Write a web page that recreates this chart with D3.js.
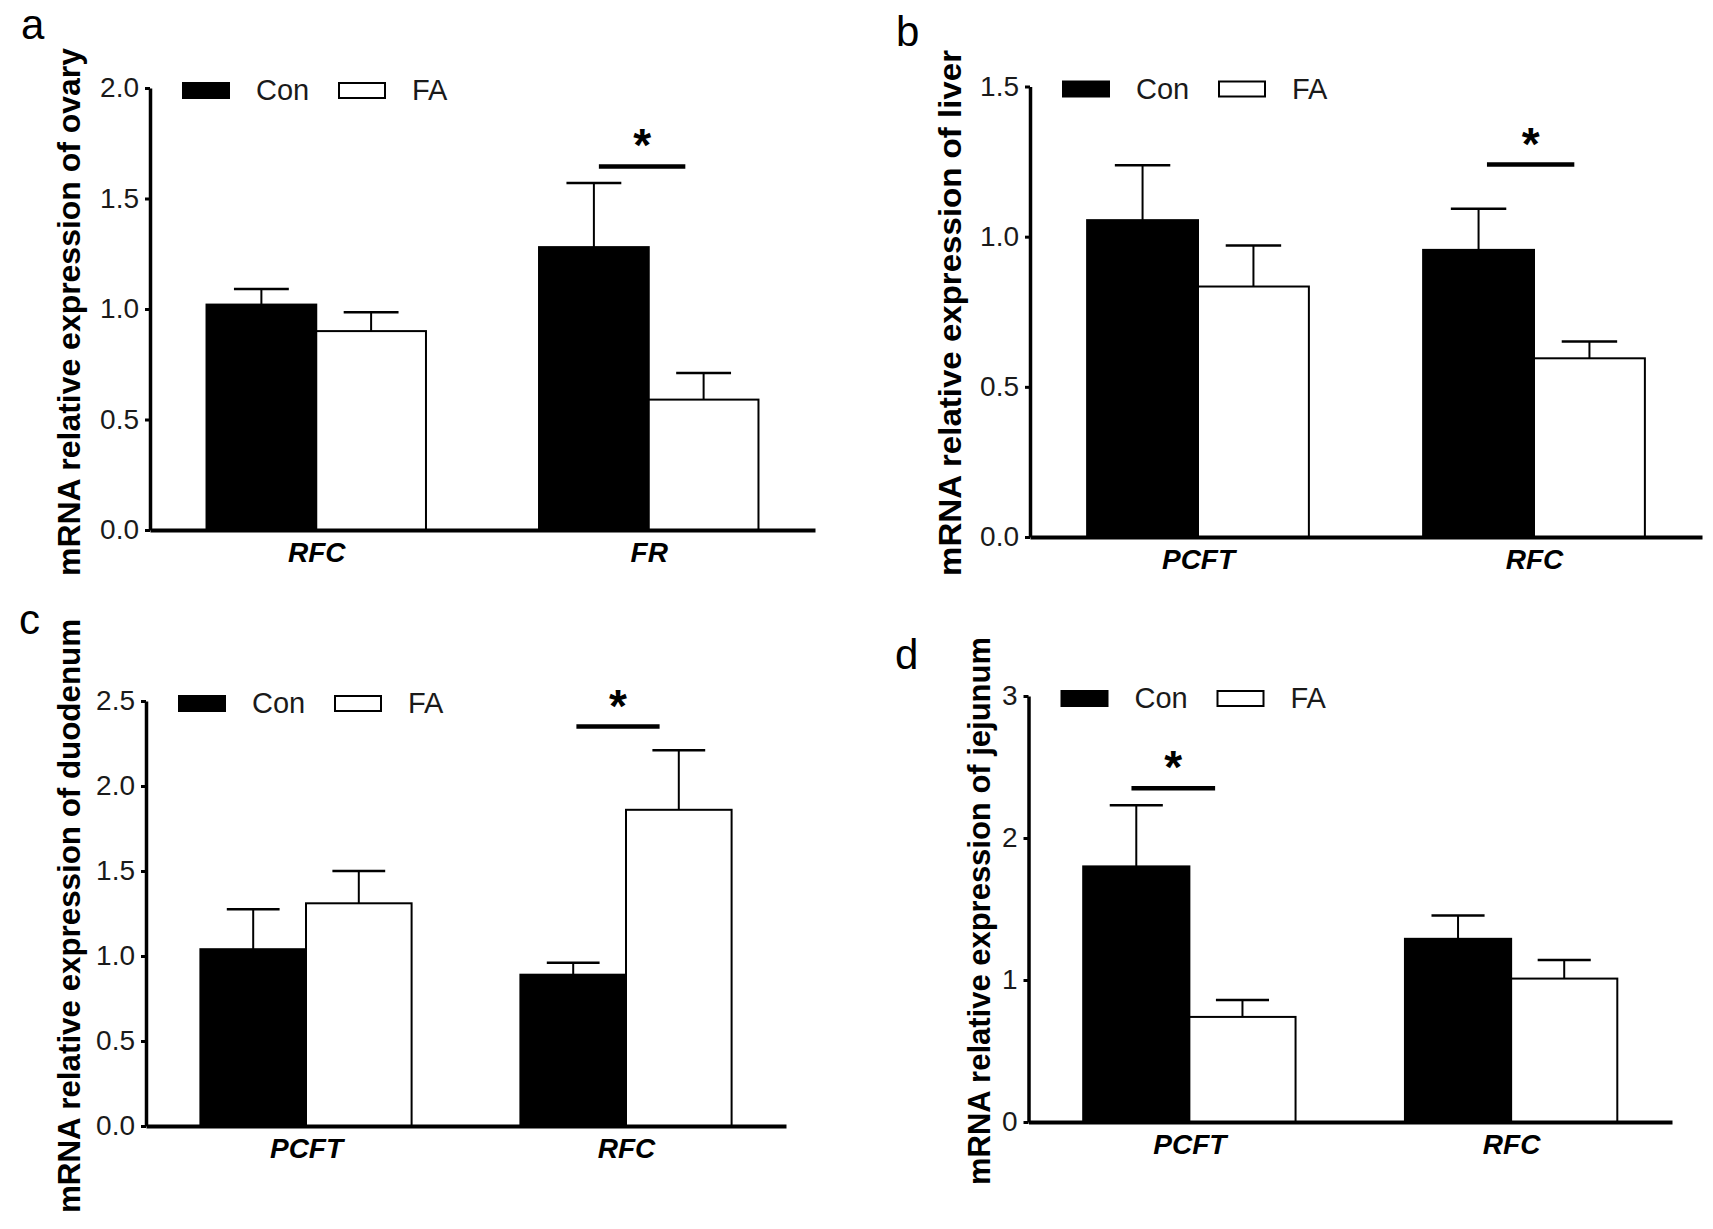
<!DOCTYPE html>
<html>
<head>
<meta charset="utf-8">
<script src="https://cdn.jsdelivr.net/npm/d3@7"></script>
<style>
  body { margin: 0; background: #fff; }
  text { font-family: "Liberation Sans", Arial, sans-serif; }
</style>
</head>
<body>
<div id="chart"></div>
<script>

// data
var groups = ["Con", "FA"];

var ovaryGenes = ["RFC", "FR"];
var ovaryCon = [1.02, 1.28];
var ovaryConErr = [0.07, 0.29];
var ovaryFA = [0.90, 0.59];
var ovaryFAErr = [0.085, 0.12];
var ovaryTicks = [0, 0.5, 1.0, 1.5, 2.0];
var ovarySig = ["FR", 1.645];

var liverGenes = ["PCFT", "RFC"];
var liverCon = [1.055, 0.956];
var liverConErr = [0.183, 0.137];
var liverFA = [0.834, 0.595];
var liverFAErr = [0.137, 0.056];
var liverTicks = [0, 0.5, 1.0, 1.5];
var liverSig = ["RFC", 1.24];

var duodenumGenes = ["PCFT", "RFC"];
var duodenumCon = [1.04, 0.89];
var duodenumConErr = [0.235, 0.07];
var duodenumFA = [1.31, 1.86];
var duodenumFAErr = [0.19, 0.35];
var duodenumTicks = [0, 0.5, 1.0, 1.5, 2.0, 2.5];
var duodenumSig = ["RFC", 2.35];

var jejunumGenes = ["PCFT", "RFC"];
var jejunumCon = [1.80, 1.29];
var jejunumConErr = [0.43, 0.165];
var jejunumFA = [0.74, 1.01];
var jejunumFAErr = [0.12, 0.13];
var jejunumTicks = [0, 1, 2, 3];
var jejunumSig = ["PCFT", 2.35];

var width = 1713;
var height = 1229;

var svg = d3.select("#chart").append("svg")
    .attr("width", width)
    .attr("height", height);

svg.append("rect")
    .attr("width", width)
    .attr("height", height)
    .attr("fill", "white");

function drawPanel(p) {
    var g = svg.append("g");

    var x = d3.scalePoint()
        .domain(p.genes)
        .range([p.x0, p.x1])
        .padding(0.5);
    var step = x.step();
    var bw = step * 0.33;

    var y = d3.scaleLinear()
        .domain([0, p.ticks[p.ticks.length - 1]])
        .range([p.y0, p.y1]);

    var rows = p.genes.map(function(gene, i) {
        return [
            { gene: gene, grp: 0, v: p.con[i], e: p.conErr[i] },
            { gene: gene, grp: 1, v: p.fa[i], e: p.faErr[i] }
        ];
    }).flat();

    // bars
    g.selectAll(".bar").data(rows).enter().append("rect")
        .attr("x", function(d) { return x(d.gene) - bw + d.grp * bw; })
        .attr("y", function(d) { return y(d.v); })
        .attr("width", bw)
        .attr("height", function(d) { return y(0) - y(d.v); })
        .attr("fill", function(d) { return d.grp == 0 ? "black" : "white"; })
        .attr("stroke", "black")
        .attr("stroke-width", 2);

    // error bars
    g.selectAll(".err").data(rows).enter().append("line")
        .attr("x1", function(d) { return x(d.gene) - bw / 2 + d.grp * bw; })
        .attr("x2", function(d) { return x(d.gene) - bw / 2 + d.grp * bw; })
        .attr("y1", function(d) { return y(d.v); })
        .attr("y2", function(d) { return y(d.v + d.e); })
        .attr("stroke", "black")
        .attr("stroke-width", 2);

    g.selectAll(".cap").data(rows).enter().append("line")
        .attr("x1", function(d) { return x(d.gene) - bw * 0.75 + d.grp * bw; })
        .attr("x2", function(d) { return x(d.gene) - bw * 0.25 + d.grp * bw; })
        .attr("y1", function(d) { return y(d.v + d.e); })
        .attr("y2", function(d) { return y(d.v + d.e); })
        .attr("stroke", "black")
        .attr("stroke-width", 2.5);

    // y axis
    var yAxis = d3.axisLeft(y)
        .tickValues(p.ticks)
        .tickFormat(p.fmt)
        .tickSizeInner(5)
        .tickSizeOuter(0)
        .tickPadding(6);
    var ya = g.append("g")
        .attr("transform", "translate(" + p.x0 + ",0)")
        .call(yAxis);
    ya.select(".domain").attr("stroke-width", 3.5).attr("stroke", "black");
    ya.selectAll(".tick line").attr("stroke-width", 3).attr("stroke", "black");
    ya.selectAll(".tick text")
        .attr("font-size", 28)
        .attr("fill", "#1a1a1a")
        .style("font-family", "'Liberation Sans', Arial, sans-serif");

    // x axis
    var xAxis = d3.axisBottom(x).tickSize(0).tickPadding(12);
    var xa = g.append("g")
        .attr("transform", "translate(0," + y(0) + ")")
        .call(xAxis);
    xa.select(".domain").attr("stroke-width", 4).attr("stroke", "black");
    xa.selectAll(".tick text")
        .attr("font-size", 28)
        .attr("font-weight", "bold")
        .attr("font-style", "italic")
        .attr("fill", "black")
        .attr("dy", "0.71em")
        .style("font-family", "'Liberation Sans', Arial, sans-serif");

    // significance
    var sx = x(p.sig[0]) + p.sigShift * step;
    g.append("line")
        .attr("x1", sx - step * 0.13)
        .attr("x2", sx + step * 0.13)
        .attr("y1", y(p.sig[1]))
        .attr("y2", y(p.sig[1]))
        .attr("stroke", "black")
        .attr("stroke-width", 4.5);
    g.append("text")
        .attr("x", sx)
        .attr("y", y(p.sig[1]) - 5)
        .attr("text-anchor", "middle")
        .attr("font-size", 46)
        .attr("font-weight", "bold")
        .text("*");

    // legend
    var ly = p.y1 + 2;
    var legX = [p.x0 + 33, p.x0 + 189];
    g.selectAll(".lbox").data(groups).enter().append("rect")
        .attr("x", function(d, i) { return legX[i]; })
        .attr("y", ly - 7)
        .attr("width", 46)
        .attr("height", 15)
        .attr("fill", function(d, i) { return i == 0 ? "black" : "white"; })
        .attr("stroke", "black")
        .attr("stroke-width", 2);
    g.selectAll(".ltext").data(groups).enter().append("text")
        .attr("x", function(d, i) { return legX[i] + 73; })
        .attr("y", ly + 10)
        .attr("font-size", 29)
        .attr("fill", "#1a1a1a")
        .text(function(d) { return d; });

    // y title
    g.append("text")
        .attr("transform", "translate(" + p.titleX + "," + p.titleY + ") rotate(-90)")
        .attr("text-anchor", "middle")
        .attr("font-size", 32)
        .attr("font-weight", "bold")
        .attr("textLength", p.titleLen)
        .attr("lengthAdjust", "spacingAndGlyphs")
        .text(p.title);

    // panel letter
    g.append("text")
        .attr("x", p.lx)
        .attr("y", p.ly)
        .attr("font-size", 42)
        .text(p.letter);
}

drawPanel({
    letter: "a", lx: 21, ly: 39,
    genes: ovaryGenes, con: ovaryCon, conErr: ovaryConErr, fa: ovaryFA, faErr: ovaryFAErr,
    ticks: ovaryTicks, fmt: d3.format(".1f"), sig: ovarySig, sigShift: -0.02,
    x0: 150, x1: 815, y0: 530, y1: 88,
    title: "mRNA relative expression of ovary", titleX: 80, titleY: 312, titleLen: 528
});

drawPanel({
    letter: "b", lx: 896, ly: 46,
    genes: liverGenes, con: liverCon, conErr: liverConErr, fa: liverFA, faErr: liverFAErr,
    ticks: liverTicks, fmt: d3.format(".1f"), sig: liverSig, sigShift: -0.01,
    x0: 1030, x1: 1702, y0: 537, y1: 86.5,
    title: "mRNA relative expression of liver", titleX: 961, titleY: 313, titleLen: 526
});

drawPanel({
    letter: "c", lx: 19, ly: 634,
    genes: duodenumGenes, con: duodenumCon, conErr: duodenumConErr, fa: duodenumFA, faErr: duodenumFAErr,
    ticks: duodenumTicks, fmt: d3.format(".1f"), sig: duodenumSig, sigShift: -0.025,
    x0: 146, x1: 786, y0: 1126, y1: 701,
    title: "mRNA relative expression of duodenum", titleX: 80, titleY: 916, titleLen: 594
});

drawPanel({
    letter: "d", lx: 895, ly: 669,
    genes: jejunumGenes, con: jejunumCon, conErr: jejunumConErr, fa: jejunumFA, faErr: jejunumFAErr,
    ticks: jejunumTicks, fmt: d3.format("d"), sig: jejunumSig, sigShift: -0.05,
    x0: 1028.5, x1: 1672, y0: 1122, y1: 696,
    title: "mRNA relative expression of jejunum", titleX: 990, titleY: 911, titleLen: 548
});

</script>
</body>
</html>
